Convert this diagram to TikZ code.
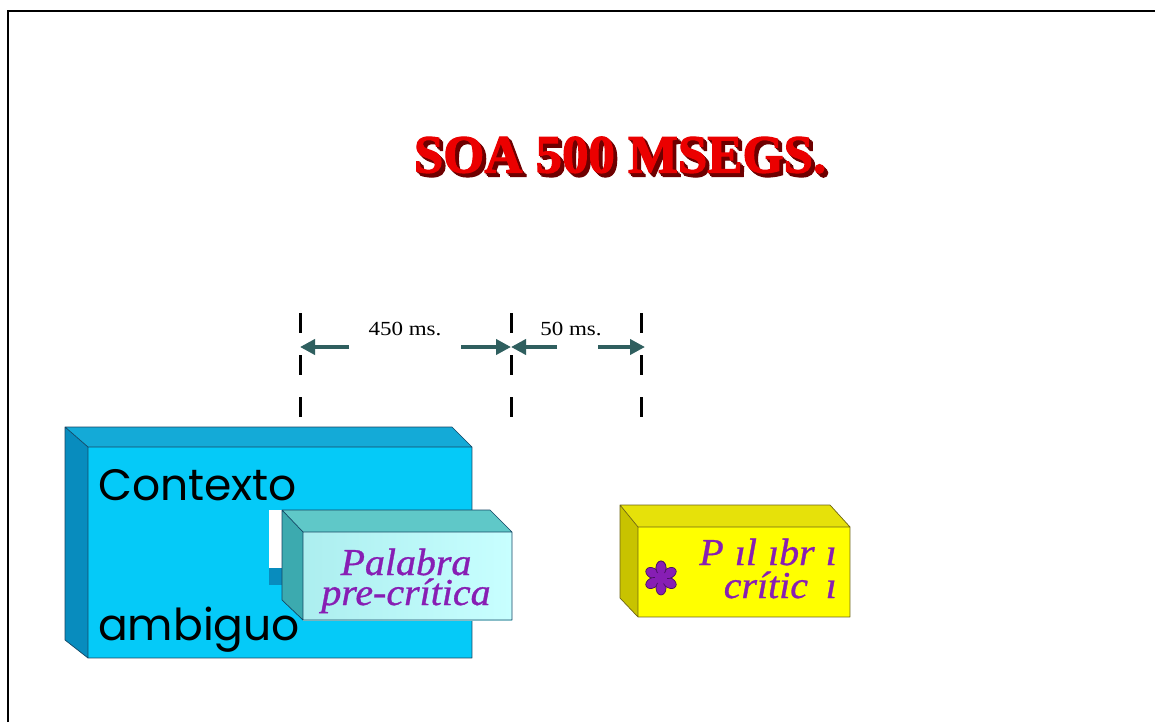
\documentclass[tikz,border=0pt]{standalone}
\usepackage{fontspec}
\setmainfont{Liberation Serif}
\newfontfamily\geo{Poppins}
\newfontfamily\titlefont[BoldFeatures={FakeBold=2.2}]{Liberation Serif}
\newfontfamily\heavyit[ItalicFeatures={FakeBold=0.8}]{Liberation Serif}
\usetikzlibrary{arrows.meta,calc}
\definecolor{cyanfront}{RGB}{5,202,248}
\definecolor{cyantop}{RGB}{20,170,215}
\definecolor{cyanside}{RGB}{8,140,190}
\definecolor{cyanedge}{RGB}{20,70,100}
\definecolor{lightfront}{RGB}{200,255,255}
\definecolor{lighttop}{RGB}{95,200,200}
\definecolor{lightside}{RGB}{60,170,175}
\definecolor{yelfront}{RGB}{255,255,0}
\definecolor{yeltop}{RGB}{230,225,10}
\definecolor{yelside}{RGB}{200,195,0}
\definecolor{yeledge}{RGB}{110,100,20}
\definecolor{purp}{RGB}{135,30,180}
\definecolor{arrcol}{RGB}{47,95,95}
\definecolor{titlered}{RGB}{235,0,0}
\definecolor{titledark}{RGB}{110,0,0}
\newcommand{\titletext}{SOA 500 MSEGS.}
\newcommand{\shadowcopy}[1]{\makebox[0pt][l]{\hspace{#1pt}\raisebox{-#1pt}{\color{titledark}\titletext}}}
\tikzset{
  edge3d/.style={draw=#1,line width=0.7,line join=round},
  dashline/.style={line width=3,dash pattern=on 20 off 22},
  timearrow/.style={draw=arrcol,line width=4.5,-{Triangle[length=15,width=15]}},
  mslabel/.style={font=\fontsize{20}{20}\selectfont,xscale=1.15,inner sep=0},
  wordlabel/.style={font=\heavyit\fontsize{38}{38}\selectfont\itshape,text=purp,xscale=1.05,inner sep=0},
  ctxlabel/.style={font=\geo\fontsize{44}{44}\selectfont,inner sep=0},
  titlelabel/.style={font=\titlefont\fontsize{48}{48}\selectfont\bfseries,xscale=1.1,yscale=1.12,inner sep=0}
}
\begin{document}
\begin{tikzpicture}[x=1pt,y=-1pt]
\useasboundingbox (0,0) rectangle (1155,722);
\fill[white] (0,0) rectangle (1155,722);
\draw[line width=2.5] (8,722) -- (8,11) -- (1155,11);

% title with 3D shadow (one text node)
\node[titlelabel,text=titlered] (title) at (620,157)
  {\shadowcopy{3.6}\shadowcopy{2.4}\shadowcopy{1.2}\titletext};

% dashed time marks
\coordinate (m1t) at (300,313); \coordinate (m1b) at (300,418);
\coordinate (m2t) at (511,313); \coordinate (m2b) at (511,418);
\coordinate (m3t) at (641,313); \coordinate (m3b) at (641,418);
\draw[dashline] (m1t) -- (m1b);
\draw[dashline] (m2t) -- (m2b);
\draw[dashline] (m3t) -- (m3b);

% arrows
\coordinate (a1s) at (349,347); \coordinate (a1e) at (300,347);
\coordinate (a2s) at (461,347); \coordinate (a2e) at (511,347);
\coordinate (a3s) at (557,347); \coordinate (a3e) at (511,347);
\coordinate (a4s) at (598,347); \coordinate (a4e) at (645,347);
\draw[timearrow] (a1s) -- (a1e);
\draw[timearrow] (a2s) -- (a2e);
\draw[timearrow] (a3s) -- (a3e);
\draw[timearrow] (a4s) -- (a4e);
\node[mslabel] (l450) at (405,329) {450 ms.};
\node[mslabel] (l50) at (571,329) {50 ms.};

% big cyan box
\fill[cyanside] (65,427) -- (88,447) -- (88,658) -- (65,640) -- cycle;
\fill[cyantop] (65,427) -- (452,427) -- (472,447) -- (88,447) -- cycle;
\fill[cyanfront] (88,447) rectangle (472,658);
\draw[edge3d=cyanedge] (65,427) -- (452,427) -- (472,447) -- (472,658) -- (88,658) -- (65,640) -- cycle
  (65,427) -- (88,447) -- (472,447) (88,447) -- (88,658);
\node[ctxlabel,anchor=base west] (ctx) at (98,500) {Contexto};
\node[ctxlabel,anchor=base west] (amb) at (98,640) {ambiguo};

% notch behind inner box
\fill[white] (269,510) rectangle (283,568);
\fill[cyanside] (269,568) rectangle (283,585);

% inner light box
\fill[lightside] (282,510) -- (303,532) -- (303,620) -- (282,600) -- cycle;
\fill[lighttop] (282,510) -- (490,510) -- (512,532) -- (303,532) -- cycle;
\shade[left color=lightfront!80!lightside,right color=lightfront] (303,532) rectangle (512,620);
\draw[edge3d=cyanedge] (282,510) -- (490,510) -- (512,532) -- (512,620) -- (303,620) -- (282,600) -- cycle
  (282,510) -- (303,532) -- (512,532) (303,532) -- (303,620);
\node[wordlabel,anchor=base] (pal1) at (406,575) {Palabra};
\node[wordlabel,anchor=base] (pal2) at (406,605) {pre-crítica};

% yellow box
\fill[yelside] (620,505) -- (638,527) -- (638,617) -- (620,598) -- cycle;
\fill[yeltop] (620,505) -- (830,505) -- (850,527) -- (638,527) -- cycle;
\fill[yelfront] (638,527) rectangle (850,617);
\draw[edge3d=yeledge] (620,505) -- (830,505) -- (850,527) -- (850,617) -- (638,617) -- (620,598) -- cycle
  (620,505) -- (638,527) -- (850,527) (638,527) -- (638,617);
\node[wordlabel,anchor=base east] (yw1) at (837,565) {P\;ıl\;ıbr\;ı};
\node[wordlabel,anchor=base east] (yw2) at (837,598) {crític\;\,ı};

% flower asterisk
\coordinate (fl) at (661,578);
\foreach \a in {90,150,...,450}
  \fill[purp,draw=purp!55!black,line width=0.7,rotate around={\a:(fl)}] ($(fl)+(10,0)$) ellipse[x radius=7,y radius=5];
\fill[purp] (fl) circle[radius=6];
\end{tikzpicture}
\end{document}
